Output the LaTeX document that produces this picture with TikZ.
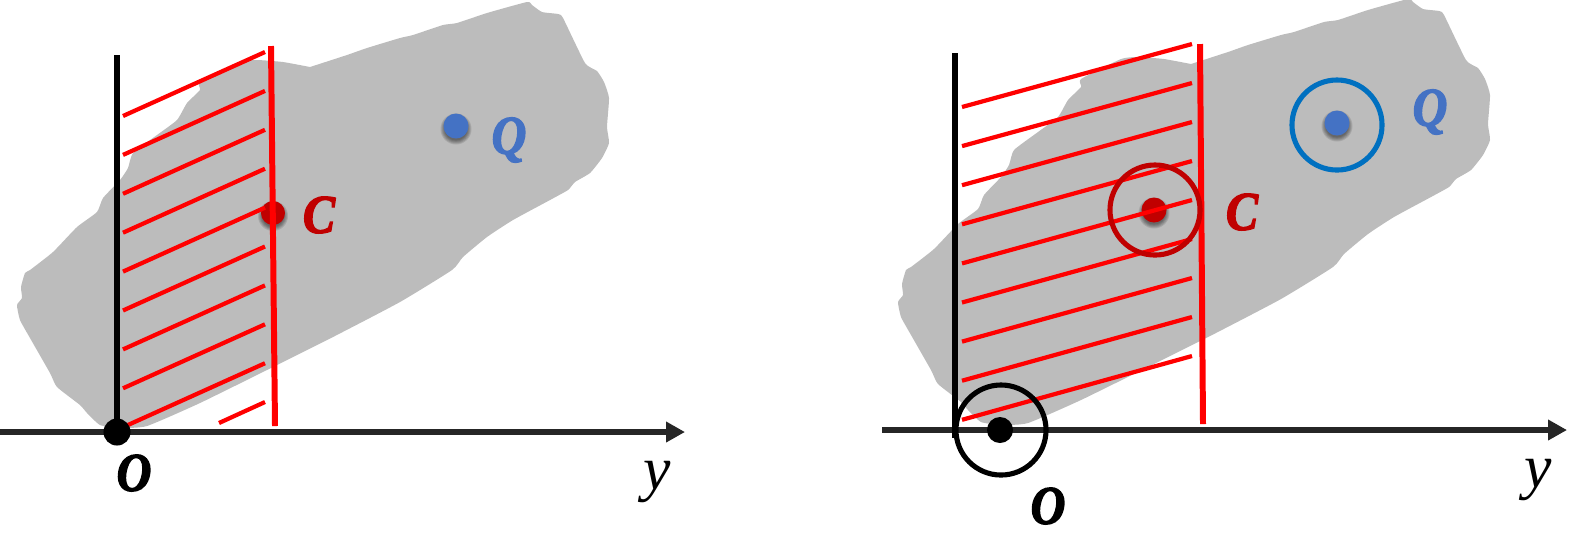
\documentclass[tikz,border=0pt]{standalone}
\usepackage{fontspec}
\setmainfont{Liberation Serif}
\newfontface\ltrfont{Liberation Serif Bold Italic}[FakeStretch=0.88,FakeBold=2.5]
\usetikzlibrary{arrows.meta}
\definecolor{blobgray}{HTML}{BCBCBC}
\definecolor{axisgray}{HTML}{262626}
\definecolor{hatchred}{HTML}{FF0000}
\definecolor{darkred}{HTML}{C00000}
\definecolor{dotblue}{HTML}{4472C4}
\definecolor{ringblue}{HTML}{0070C0}
\tikzset{
  blob/.style={fill=blobgray,draw=none},
  axisline/.style={draw=axisgray,line width=1.75pt,-{Triangle[length=5.4pt,width=5.6pt]}},
  wall/.style={draw=black,line width=1.6pt},
  redwall/.style={draw=hatchred,line width=1.7pt},
  hatch/.style={draw=hatchred,line width=1.2pt},
  dotnode/.style={circle,inner sep=0pt,minimum size=#1*0.2845pt,draw=none},
  ring/.style={circle,inner sep=0pt,minimum size=90*0.2845pt,line width=1.45pt,fill=none},
  letter/.style={font=\fontsize{15.5}{18}\ltrfont,inner sep=0pt},
  yletter/.style={font=\fontsize{17.5}{20}\selectfont\itshape,inner sep=0pt},
}
\newcommand{\softdot}[5]{%
  \foreach \gr in {3,2,1,0,-1}{\fill[black,opacity=.11] (#2,#3+3) circle ({(#4/2+\gr)*0.01cm});}
  \node[dotnode=#4,fill=#5] (#1) at (#2,#3) {};}
\newcommand{\blobshape}{plot[smooth,tension=0.3] coordinates {
(310,67)(347,55)(367,48)(400,38)(413,35)(443,25)(457,23)(487,13)(527,2)(532,5)(542,12)(558,14)(563,18)(585,63)(597,71)(604,82)(609,98)(607,127)(609,143)(602,158)(590,173)(575,182)(568,190)(550,200)(513,220)(487,237)(463,257)(452,270)(400,302)(333,337)(273,367)(200,403)(147,426)(120,428)(100,425)(87,413)(80,405)(57,387)(50,373)(30,338)(20,320)(17,305)(22,298)(21,287)(25,273)(30,270)(53,252)(77,227)(97,212)(103,198)(120,180)(128,168)(133,153)(157,135)(177,120)(187,103)(200,90)(200,82)(240,62)(257,60)(283,62)(310,67)}}
\begin{document}
\begin{tikzpicture}[x=0.01cm,y=-0.01cm]
\useasboundingbox (0,0) rectangle (1585,541);
% left panel
\fill[blob] \blobshape;
\coordinate (axL) at (0,432);
\coordinate (axLe) at (685,432);
\coordinate (wLa) at (117,55);
\coordinate (wLb) at (117,432);
\coordinate (rLa) at (271,46);
\coordinate (rLb) at (275,426);
\draw[axisline] (axL) -- (axLe);
\draw[wall] (wLa) -- (wLb);
\softdot{cL}{273}{213}{24}{darkred}
\draw[redwall] (rLa) -- (rLb);
\foreach \k in {0,...,8}{
  \coordinate (a) at (123,116+38.9*\k);
  \coordinate (b) at (265,52+38.9*\k);
  \draw[hatch] (a) -- (b);
}
\coordinate (sa) at (219,423);
\coordinate (sb) at (265,402);
\draw[hatch] (sa) -- (sb);
\softdot{qL}{456}{126}{25}{dotblue}
\node[dotnode=27,fill=black] (oL) at (117,432) {};
\node[letter,text=darkred] (cLt) at (319,215) {C};
\node[letter,text=dotblue] (qLt) at (509,140) {Q};
\node[letter,text=black] (oLt) at (134,473) {O};
\node[yletter,text=black] (yLt) at (657,482) {y};
% right panel
\begin{scope}[shift={(881,-3)}]
\fill[blob] \blobshape;
\end{scope}
\coordinate (axR) at (882,430);
\coordinate (axRe) at (1567,430);
\coordinate (wRa) at (955,53);
\coordinate (wRb) at (955,438);
\coordinate (rRa) at (1200,44);
\coordinate (rRb) at (1203,424);
\draw[axisline] (axR) -- (axRe);
\draw[wall] (wRa) -- (wRb);
\softdot{cR}{1154}{210}{25}{darkred}
\draw[redwall] (rRa) -- (rRb);
\foreach \k in {0,...,8}{
  \coordinate (a) at (962,107+39.1*\k);
  \coordinate (b) at (1192,44+39*\k);
  \draw[hatch] (a) -- (b);
}
\node[ring,draw=darkred] (cRr) at (1155,210) {};
\softdot{qR}{1337}{123}{25}{dotblue}
\node[ring,draw=ringblue] (qRr) at (1337,125) {};
\node[dotnode=26,fill=black] (oR) at (1000,430) {};
\node[ring,draw=black] (oRr) at (1001,430) {};
\node[letter,text=darkred] (cRt) at (1242,212) {C};
\node[letter,text=dotblue] (qRt) at (1430,112) {Q};
\node[letter,text=black] (oRt) at (1048,506) {O};
\node[yletter,text=black] (yRt) at (1538,480) {y};
\end{tikzpicture}
\end{document}
